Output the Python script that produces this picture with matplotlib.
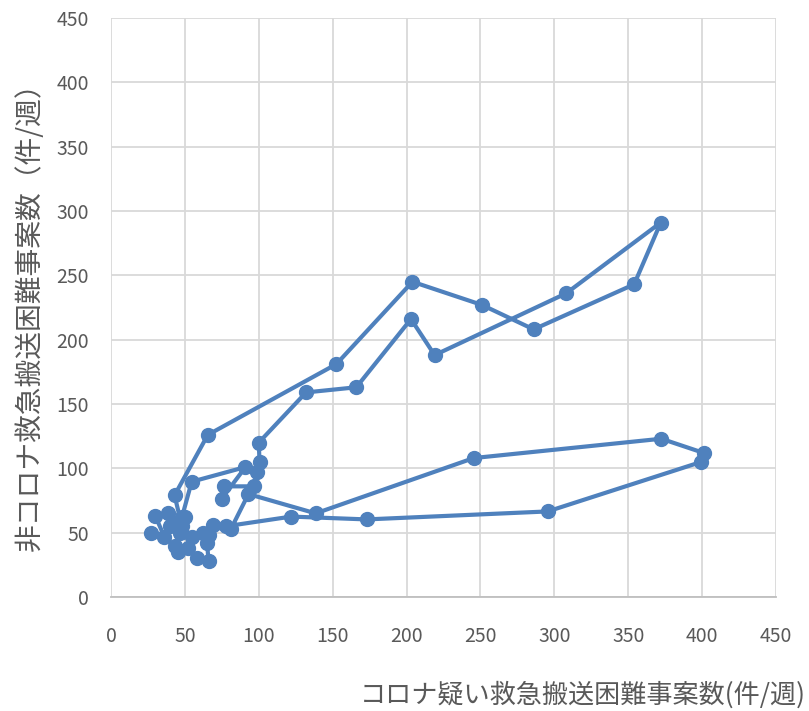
import matplotlib
matplotlib.use("Agg")
import matplotlib.pyplot as plt

plt.rcParams['font.family'] = ['Noto Sans CJK JP', 'DejaVu Sans']

# weekly counts, in time order
corona_suspected = [27, 36, 30, 38.5, 45, 50, 47, 43, 45, 52, 58, 66, 65, 66, 69,
                    81, 93, 138.5, 245.5, 372.4, 401, 399.5, 295.5, 173, 122, 78,
                    62, 55, 48, 43, 65.5, 152.5, 204, 251, 286, 354, 372, 308, 219,
                    203, 166, 132, 100, 100.5, 99, 97, 76.5, 75, 91, 54.6, 48, 44, 40]
non_corona = [50, 47, 63, 65, 57, 62, 50, 40, 35, 38, 30, 28, 42, 48, 56,
              52.5, 80, 65, 108, 123, 112, 105, 66.5, 60.3, 62.5, 55,
              50, 47, 55, 79, 126, 181, 245, 227, 208, 243, 291, 236, 188,
              216, 163, 159, 120, 105, 97, 86, 86, 76.5, 101, 89.6, 62, 57, 55]

ticks = list(range(0, 451, 50))

blue = '#4F81BD'
grey_txt = '#595959'

fig = plt.figure(figsize=(8.09, 7.11), dpi=100)
ax = fig.add_axes([111 / 809, 114 / 711, 665 / 809, 579 / 711])

ax.plot(corona_suspected, non_corona, color=blue, lw=3, marker='o',
        markersize=10, markerfacecolor=blue, markeredgecolor=blue, zorder=3)

ax.set_xlim(0, 450)
ax.set_ylim(0, 450)
ax.set_xticks(ticks)
ax.set_yticks(ticks)
ax.grid(True, color='#D9D9D9', lw=1.3, zorder=0)
ax.set_axisbelow(True)
for s in ['top', 'right', 'left']:
    ax.spines[s].set_visible(False)
ax.spines['bottom'].set_color('#BFBFBF')
ax.spines['bottom'].set_linewidth(1.3)
ax.tick_params(axis='both', length=0, labelsize=14, labelcolor=grey_txt)
ax.tick_params(axis='x', pad=21)
ax.tick_params(axis='y', pad=16)

fig.text(30 / 809, 1 - 310 / 711, '非コロナ救急搬送困難事案数（件/週）', rotation=90,
         ha='center', va='center', fontsize=20, color=grey_txt)
fig.text(806 / 809, 1 - 695 / 711, 'コロナ疑い救急搬送困難事案数(件/週)',
         ha='right', va='center', fontsize=18.8, color=grey_txt)

fig.savefig('out.png', dpi=100)
